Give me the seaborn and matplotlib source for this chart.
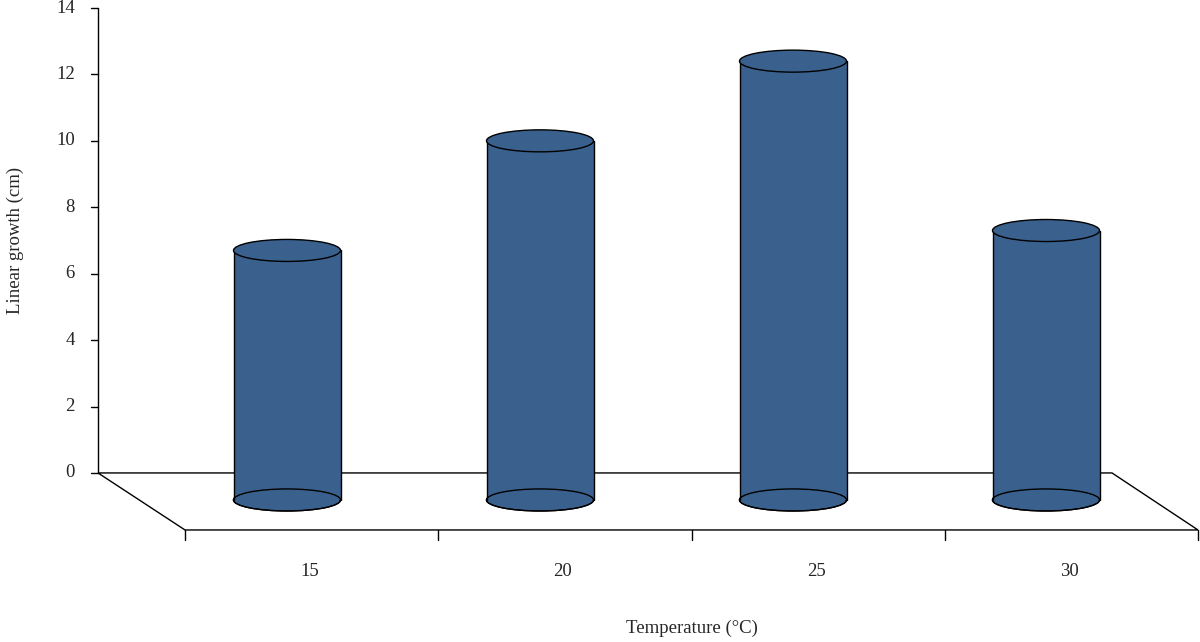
import matplotlib
matplotlib.use("Agg")
import matplotlib.pyplot as plt
import seaborn as sns
from matplotlib.patches import Ellipse, Polygon

sns.set_style("white")
plt.rcParams['font.family'] = ['Liberation Serif', 'DejaVu Serif']

categories = ["15", "20", "25", "30"]
values = [6.7, 10.0, 12.4, 7.3]
yticks = [0, 2, 4, 6, 8, 10, 12, 14]
color = "#3A618E"

PX = 33.2  # pixels per unit
fig = plt.figure(figsize=(12, 6.42), dpi=100)
ax = fig.add_axes([0, 0, 1, 1])
ax.set_xlim(0, 1200)
ax.set_ylim(-(642 - 473) / PX, 14 + 8 / PX)
ax.axis("off")

depth = -57 / PX
# floor
ax.add_patch(Polygon([(98, 0), (1112, 0), (1198, depth), (185, depth)],
                     closed=True, fill=False, edgecolor="black", lw=1))
for x in [185, 438, 692, 945, 1198]:
    ax.plot([x, x], [depth, depth - 10 / PX], color="black", lw=1)
# y axis
ax.plot([98, 98], [0, 14], color="black", lw=1)
for t in yticks:
    ax.plot([91, 98], [t, t], color="black", lw=1)
    ax.text(75, t, str(t), ha="right", va="center", fontsize=13.5)
ax.text(15, 7.0, "Linear growth (cm)", rotation=90, ha="center", va="center", fontsize=13.5)

# cylinders
w = 107
eh = 22 / PX
base = -27 / PX
centers = [287 + 253 * i for i in range(len(values))]
ax.bar(centers, [v - base for v in values], bottom=base, width=w,
       color=color, edgecolor="none", zorder=2)
for c, v, lab in zip(centers, values, categories):
    ax.add_patch(Ellipse((c, base), w, eh, facecolor=color, edgecolor="black", lw=1, zorder=1.9))
    ax.bar([c], [v - base], bottom=base, width=w, color=color, edgecolor="none", zorder=2.1)
    ax.plot([c - w / 2, c - w / 2], [base, v], color="black", lw=1, zorder=3)
    ax.plot([c + w / 2, c + w / 2], [base, v], color="black", lw=1, zorder=3)
    # bottom front arc
    ax.add_patch(Ellipse((c, base), w, eh, facecolor="none", edgecolor="black", lw=1, zorder=3))
    ax.add_patch(Ellipse((c, base), w - 2, eh - 2 / PX, facecolor=color, edgecolor="none", zorder=2.9))
    ax.add_patch(Ellipse((c, v), w, eh, facecolor=color, edgecolor="black", lw=1, zorder=4))
    ax.text(c + 23, -(572 - 473) / PX, lab, ha="center", va="center", fontsize=13.5)

ax.text(692, -(628 - 473) / PX, "Temperature (°C)", ha="center", va="center", fontsize=13.5)
fig.savefig("out.png", dpi=100)
